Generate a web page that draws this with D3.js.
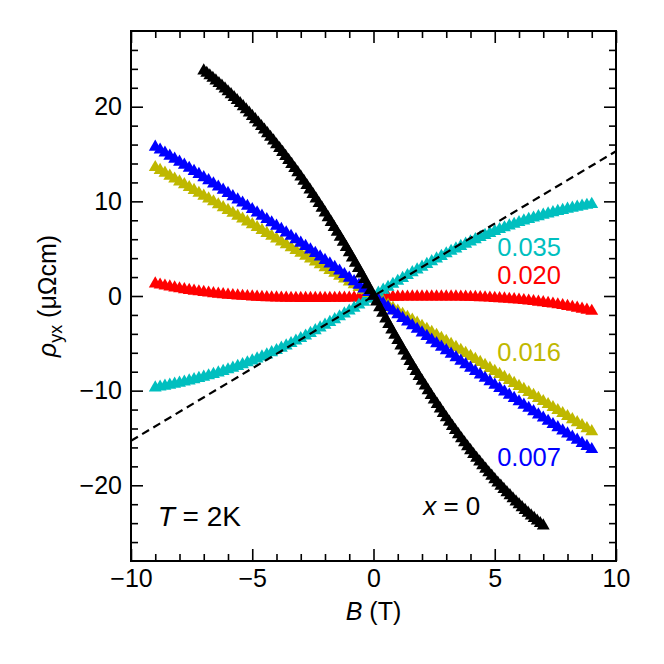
<!DOCTYPE html>
<html lang="en">
<head>
<meta charset="UTF-8">
<title>Hall resistivity vs field</title>
<script src="https://cdn.jsdelivr.net/npm/d3@7"></script>
<style>
  body { margin: 0; background: #fff; }
  text { font-family: "Liberation Sans", Arial, sans-serif; }
</style>
</head>
<body>
<div id="chart"></div>
<script>
// field values (T), -9 .. 9
const bField = [-9, -8.8, -8.6, -8.4, -8.2, -8, -7.8, -7.6, -7.4, -7.2, -7, -6.8, -6.6, -6.4, -6.2,
  -6, -5.8, -5.6, -5.4, -5.2, -5, -4.8, -4.6, -4.4, -4.2, -4, -3.8, -3.6, -3.4, -3.2,
  -3, -2.8, -2.6, -2.4, -2.2, -2, -1.8, -1.6, -1.4, -1.2, -1, -0.8, -0.6, -0.4, -0.2,
  0, 0.2, 0.4, 0.6, 0.8, 1, 1.2, 1.4, 1.6, 1.8, 2, 2.2, 2.4, 2.6, 2.8,
  3, 3.2, 3.4, 3.6, 3.8, 4, 4.2, 4.4, 4.6, 4.8, 5, 5.2, 5.4, 5.6, 5.8,
  6, 6.2, 6.4, 6.6, 6.8, 7, 7.2, 7.4, 7.6, 7.8, 8, 8.2, 8.4, 8.6, 8.8, 9];
// field values for x = 0, -7 .. 7
const bField0 = [-7, -6.875, -6.75, -6.625, -6.5, -6.375, -6.25, -6.125, -6, -5.875, -5.75, -5.625, -5.5, -5.375,
  -5.25, -5.125, -5, -4.875, -4.75, -4.625, -4.5, -4.375, -4.25, -4.125, -4, -3.875, -3.75, -3.625, -3.5, -3.375,
  -3.25, -3.125, -3, -2.875, -2.75, -2.625, -2.5, -2.375, -2.25, -2.125, -2, -1.875, -1.75, -1.625, -1.5, -1.375,
  -1.25, -1.125, -1, -0.875, -0.75, -0.625, -0.5, -0.375, -0.25, -0.125,
  0, 0.125, 0.25, 0.375, 0.5, 0.625, 0.75, 0.875, 1, 1.125, 1.25, 1.375, 1.5, 1.625, 1.75, 1.875,
  2, 2.125, 2.25, 2.375, 2.5, 2.625, 2.75, 2.875, 3, 3.125, 3.25, 3.375, 3.5, 3.625, 3.75, 3.875,
  4, 4.125, 4.25, 4.375, 4.5, 4.625, 4.75, 4.875, 5, 5.125, 5.25, 5.375, 5.5, 5.625, 5.75, 5.875,
  6, 6.125, 6.25, 6.375, 6.5, 6.625, 6.75, 6.875, 7];

// rho_yx (uOhm cm)
const rhoX0 = [23.80, 23.55, 23.29, 23.02, 22.75, 22.47, 22.19, 21.90, 21.60, 21.30, 20.99, 20.67, 20.35, 20.02,
  19.69, 19.35, 19.00, 18.65, 18.29, 17.92, 17.55, 17.17, 16.79, 16.40, 16.00, 15.60, 15.19, 14.77, 14.35, 13.92,
  13.49, 13.05, 12.60, 12.15, 11.69, 11.22, 10.75, 10.27, 9.79, 9.30, 8.80, 8.30, 7.79, 7.27, 6.75, 6.22,
  5.69, 5.15, 4.60, 4.05, 3.49, 2.92, 2.35, 1.77, 1.19, 0.60,
  0, -0.61, -1.21, -1.81, -2.40, -2.98, -3.56, -4.13, -4.69, -5.25, -5.80, -6.34, -6.89, -7.42, -7.95, -8.47,
  -8.98, -9.49, -9.99, -10.48, -10.97, -11.44, -11.92, -12.39, -12.85, -13.31, -13.76, -14.20, -14.64, -15.07, -15.49, -15.91,
  -16.32, -16.73, -17.13, -17.51, -17.90, -18.28, -18.66, -19.02, -19.38, -19.74, -20.08, -20.42, -20.76, -21.08, -21.41, -21.73,
  -22.03, -22.34, -22.63, -22.92, -23.21, -23.48, -23.76, -24.02, -24.28];
const rhoX007 = [15.75, 15.44, 15.12, 14.80, 14.48, 14.16, 13.84, 13.51, 13.19, 12.86, 12.53, 12.20, 11.87, 11.53, 11.20,
  10.86, 10.52, 10.18, 9.84, 9.50, 9.15, 8.80, 8.45, 8.10, 7.75, 7.40, 7.05, 6.69, 6.33, 5.97,
  5.61, 5.25, 4.88, 4.52, 4.15, 3.78, 3.41, 3.04, 2.66, 2.29, 1.91, 1.53, 1.15, 0.77, 0.39,
  0, -0.40, -0.79, -1.18, -1.57, -1.96, -2.35, -2.73, -3.12, -3.50, -3.88, -4.26, -4.64, -5.01, -5.39,
  -5.76, -6.13, -6.50, -6.87, -7.24, -7.60, -7.96, -8.32, -8.68, -9.04, -9.40, -9.76, -10.11, -10.46, -10.81,
  -11.16, -11.51, -11.85, -12.20, -12.54, -12.88, -13.22, -13.56, -13.89, -14.23, -14.56, -14.89, -15.22, -15.55, -15.88, -16.20];
const rhoX016 = [13.59, 13.29, 12.99, 12.68, 12.38, 12.08, 11.78, 11.48, 11.17, 10.87, 10.57, 10.27, 9.97, 9.66, 9.36,
  9.06, 8.76, 8.46, 8.15, 7.85, 7.55, 7.25, 6.95, 6.64, 6.34, 6.04, 5.74, 5.44, 5.13, 4.83,
  4.53, 4.23, 3.93, 3.62, 3.32, 3.02, 2.72, 2.42, 2.11, 1.81, 1.51, 1.21, 0.91, 0.60, 0.30,
  0, -0.32, -0.64, -0.95, -1.27, -1.59, -1.91, -2.23, -2.54, -2.86, -3.18, -3.50, -3.82, -4.13, -4.45,
  -4.77, -5.09, -5.41, -5.72, -6.04, -6.36, -6.68, -7.00, -7.31, -7.63, -7.95, -8.27, -8.59, -8.90, -9.22,
  -9.54, -9.86, -10.18, -10.49, -10.81, -11.13, -11.45, -11.77, -12.08, -12.40, -12.72, -13.04, -13.36, -13.67, -13.99, -14.31];
const rhoX020 = [1.30, 1.18, 1.07, 0.97, 0.87, 0.78, 0.69, 0.61, 0.53, 0.46, 0.39, 0.33, 0.27, 0.21, 0.16,
  0.11, 0.07, 0.03, -0.01, -0.04, -0.08, -0.10, -0.13, -0.15, -0.17, -0.18, -0.20, -0.21, -0.22, -0.22,
  -0.23, -0.23, -0.23, -0.23, -0.23, -0.23, -0.22, -0.22, -0.21, -0.21, -0.20, -0.19, -0.18, -0.17, -0.16,
  -0.15, -0.14, -0.13, -0.12, -0.11, -0.10, -0.09, -0.09, -0.08, -0.08, -0.07, -0.07, -0.07, -0.07, -0.07,
  -0.07, -0.08, -0.08, -0.09, -0.10, -0.12, -0.13, -0.15, -0.17, -0.20, -0.23, -0.26, -0.29, -0.33, -0.37,
  -0.41, -0.46, -0.51, -0.57, -0.63, -0.69, -0.76, -0.83, -0.91, -0.99, -1.08, -1.17, -1.27, -1.37, -1.48, -1.60];
const rhoX035 = [-9.70, -9.60, -9.51, -9.41, -9.30, -9.19, -9.07, -8.95, -8.83, -8.69, -8.56, -8.41, -8.26, -8.11, -7.95,
  -7.78, -7.60, -7.42, -7.23, -7.04, -6.84, -6.63, -6.42, -6.20, -5.97, -5.74, -5.50, -5.25, -5.00, -4.74,
  -4.48, -4.21, -3.93, -3.65, -3.36, -3.07, -2.78, -2.48, -2.18, -1.87, -1.57, -1.26, -0.94, -0.63, -0.32,
  0, 0.32, 0.63, 0.94, 1.26, 1.57, 1.87, 2.18, 2.48, 2.78, 3.07, 3.36, 3.65, 3.93, 4.21,
  4.48, 4.74, 5.00, 5.25, 5.50, 5.74, 5.97, 6.20, 6.42, 6.63, 6.84, 7.04, 7.23, 7.42, 7.60,
  7.78, 7.95, 8.11, 8.26, 8.41, 8.56, 8.69, 8.83, 8.95, 9.07, 9.19, 9.30, 9.41, 9.51, 9.60, 9.70];

// dashed reference line
const lineB = [-10, 10];
const lineRho = [-15.3, 15.3];

const xMajor = [-10, -5, 0, 5, 10];
const xMinor = [-9, -8, -7, -6, -4, -3, -2, -1, 1, 2, 3, 4, 6, 7, 8, 9];
const yMajor = [-20, -10, 0, 10, 20];
const yMinor = [-26, -24, -22, -18, -16, -14, -12, -8, -6, -4, -2, 2, 4, 6, 8, 12, 14, 16, 18, 22, 24, 26];

const seriesColors = ["#ff0000", "#00bfbf", "#bfb800", "#0000ff", "#000000"];

const W = 664, H = 664;
const margin = { top: 31, right: 48, bottom: 103, left: 131 };
const iw = W - margin.left - margin.right;
const ih = H - margin.top - margin.bottom;

const svg = d3.select("#chart").append("svg")
  .attr("width", W).attr("height", H);
const g = svg.append("g").attr("transform", `translate(${margin.left},${margin.top})`);

const x = d3.scaleLinear().domain([-10, 10]).range([0, iw]);
const y = d3.scaleLinear().domain([-28, 28]).range([ih, 0]);

svg.append("defs").append("clipPath").attr("id", "plot")
  .append("rect").attr("width", iw).attr("height", ih);

// drawing order: red, cyan, yellow, blue, black
const series = [
  { b: bField, r: rhoX020 },
  { b: bField, r: rhoX035 },
  { b: bField, r: rhoX016 },
  { b: bField, r: rhoX007 },
  { b: bField0, r: rhoX0 }
];
const tri = d3.symbol().type(d3.symbolTriangle).size(72);

const marks = g.append("g").attr("clip-path", "url(#plot)");
series.forEach((s, i) => {
  marks.append("g").selectAll("path")
    .data(s.b.map((b, j) => [b, s.r[j]]))
    .enter().append("path")
    .attr("d", tri)
    .attr("transform", d => `translate(${x(d[0])},${y(d[1])})`)
    .attr("fill", seriesColors[i]);
});

marks.append("path")
  .datum(lineB.map((b, j) => [b, lineRho[j]]))
  .attr("d", d3.line().x(d => x(d[0])).y(d => y(d[1])))
  .attr("fill", "none").attr("stroke", "#000")
  .attr("stroke-width", 2.2).attr("stroke-dasharray", "8,5");

// axes, ticks inside on all four sides
function styleAxis(sel) {
  sel.select(".domain").remove();
  sel.selectAll(".tick line").attr("stroke", "#000").attr("stroke-width", 1.6);
  sel.selectAll("text").attr("font-size", 25).attr("fill", "#000")
    .attr("font-family", '"Liberation Sans", Arial, sans-serif');
}
const fmt = d => d < 0 ? "\u2212" + Math.abs(d) : String(d);

g.append("g").attr("transform", `translate(0,${ih})`)
  .call(d3.axisBottom(x).tickValues(xMajor).tickSize(-12).tickPadding(8).tickFormat(fmt)).call(styleAxis);
g.append("g").attr("transform", `translate(0,${ih})`)
  .call(d3.axisBottom(x).tickValues(xMinor).tickSize(-7).tickFormat("")).call(styleAxis);
g.append("g")
  .call(d3.axisTop(x).tickValues(xMajor).tickSize(-12).tickFormat("")).call(styleAxis);
g.append("g")
  .call(d3.axisTop(x).tickValues(xMinor).tickSize(-7).tickFormat("")).call(styleAxis);
g.append("g")
  .call(d3.axisLeft(y).tickValues(yMajor).tickSize(-12).tickPadding(9).tickFormat(fmt)).call(styleAxis);
g.append("g")
  .call(d3.axisLeft(y).tickValues(yMinor).tickSize(-7).tickFormat("")).call(styleAxis);
g.append("g").attr("transform", `translate(${iw},0)`)
  .call(d3.axisRight(y).tickValues(yMajor).tickSize(-12).tickFormat("")).call(styleAxis);
g.append("g").attr("transform", `translate(${iw},0)`)
  .call(d3.axisRight(y).tickValues(yMinor).tickSize(-7).tickFormat("")).call(styleAxis);

g.append("rect").attr("width", iw).attr("height", ih)
  .attr("fill", "none").attr("stroke", "#000").attr("stroke-width", 2);

// series labels
const lab = [
  { t: "0.035", b: 5.1, r: 4.2, c: 1 },
  { t: "0.020", b: 5.1, r: 1.3, c: 0 },
  { t: "0.016", b: 5.1, r: -6.9, c: 2 },
  { t: "0.007", b: 5.1, r: -18.0, c: 3 }
];
lab.forEach(l => {
  g.append("text").attr("x", x(l.b)).attr("y", y(l.r))
    .attr("font-size", 25.5).attr("fill", seriesColors[l.c]).text(l.t);
});

const xl = g.append("text").attr("x", x(2.05)).attr("y", y(-23.1)).attr("font-size", 26);
xl.append("tspan").attr("font-style", "italic").text("x");
xl.append("tspan").text(" = 0");

const tl = g.append("text").attr("x", x(-8.9)).attr("y", y(-24.3)).attr("font-size", 28);
tl.append("tspan").attr("font-style", "italic").text("T");
tl.append("tspan").text(" = 2K");

// axis titles
const xt = svg.append("text").attr("x", margin.left + iw / 2).attr("y", 620)
  .attr("text-anchor", "middle").attr("font-size", 25);
xt.append("tspan").attr("font-style", "italic").text("B");
xt.append("tspan").text(" (T)");

const yt = svg.append("text")
  .attr("transform", `translate(56,${margin.top + ih / 2}) rotate(-90)`)
  .attr("text-anchor", "middle").attr("font-size", 25);
yt.append("tspan").attr("font-style", "italic").text("\u03c1");
yt.append("tspan").attr("font-size", 18).attr("dy", 6).text("yx");
yt.append("tspan").attr("dy", -6).text(" (\u03bc\u03a9cm)");
</script>
</body>
</html>
